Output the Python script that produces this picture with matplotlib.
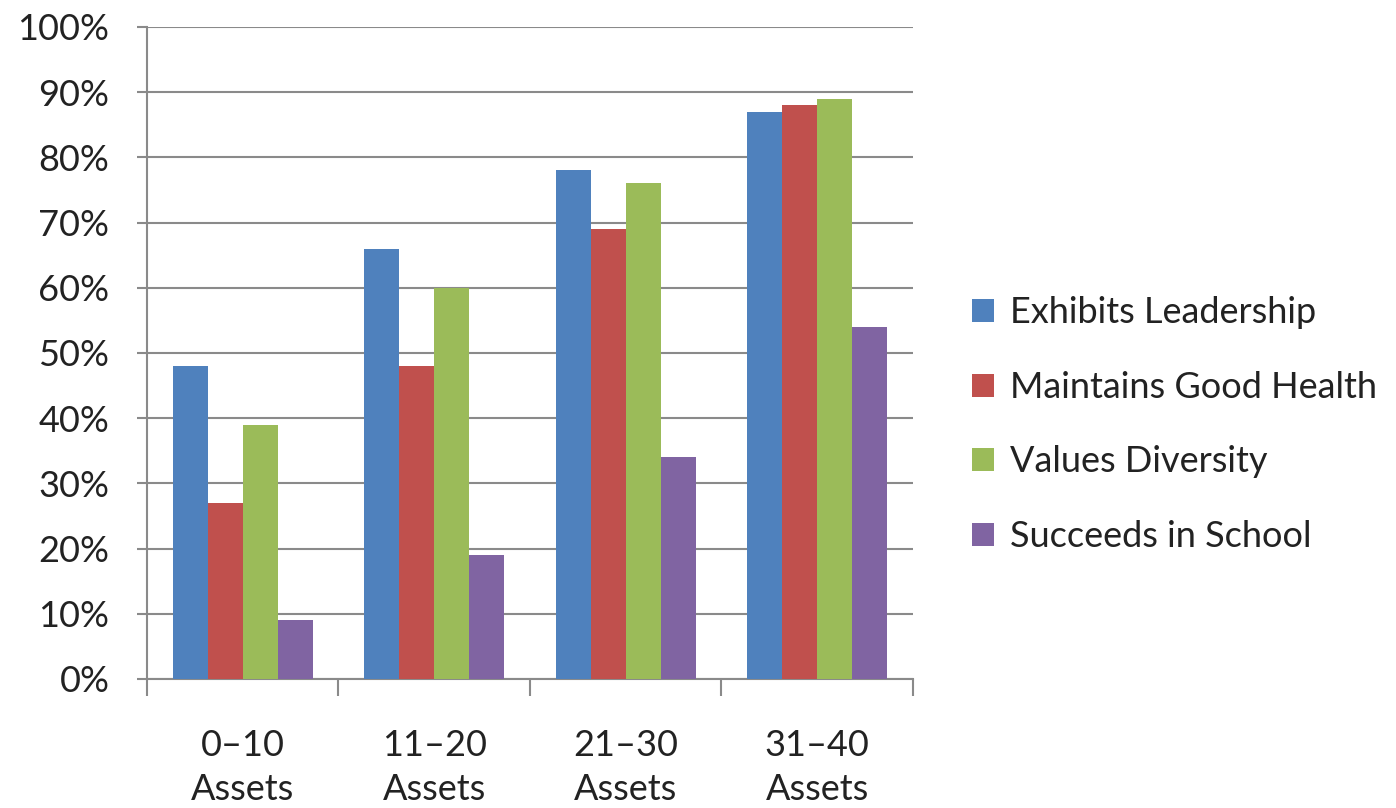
import numpy as np
import matplotlib
matplotlib.use("Agg")
import matplotlib.pyplot as plt
from matplotlib.ticker import PercentFormatter, FixedLocator

plt.rcParams['font.family'] = ['Lato', 'DejaVu Sans']

groups = ["0\u201310\nAssets", "11\u201320\nAssets", "21\u201330\nAssets", "31\u201340\nAssets"]
series = ["Exhibits Leadership", "Maintains Good Health", "Values Diversity", "Succeeds in School"]
leadership = [48, 66, 78, 87]
health = [27, 48, 69, 88]
diversity = [39, 60, 76, 89]
school = [9, 19, 34, 54]
colors = ["#4F81BD", "#C0504D", "#9BBB59", "#8064A2"]

values = [leadership, health, diversity, school]

fig = plt.figure(figsize=(13.96, 8.08), dpi=100)
ax = fig.add_axes([0.1053, 0.1597, 0.5487, 0.8069])

x = np.arange(len(groups))
bw = 0.183
for i, (name, vals, c) in enumerate(zip(series, values, colors)):
    ax.bar(x + (i - 1.5) * bw, vals, width=bw, color=c, label=name, zorder=3)

ax.set_xlim(-0.5, len(groups) - 0.5)
ax.set_ylim(0, 100)
ax.set_yticks(np.arange(0, 101, 10))
ax.yaxis.set_major_formatter(PercentFormatter(decimals=0))
ax.grid(axis='y', color='#8a8a8a', linewidth=1.5, zorder=0)

for side in ['top', 'right']:
    ax.spines[side].set_visible(False)
ax.spines['left'].set_color('#8a8a8a')
ax.spines['left'].set_linewidth(1.5)
ax.spines['bottom'].set_color('#8a8a8a')
ax.spines['bottom'].set_linewidth(1.5)

# category labels centred, tick marks on the boundaries between groups
ax.set_xticks(x)
ax.set_xticklabels(groups, fontsize=26, color='#222222', linespacing=1.4)
ax.tick_params(axis='x', which='major', length=0, pad=36)
ax.xaxis.set_minor_locator(FixedLocator(np.arange(-0.5, len(groups), 1)))
ax.tick_params(axis='x', which='minor', length=12, width=1.5, color='#8a8a8a', direction='out')
ax.tick_params(axis='y', length=7, width=1.5, color='#8a8a8a', labelsize=26,
               labelcolor='#222222', pad=20)

ax.legend(loc='center left', bbox_to_anchor=(1.035, 0.39), frameon=False,
          fontsize=26, handlelength=0.6, handleheight=0.6, handletextpad=0.45,
          labelspacing=1.15, labelcolor='#222222')

fig.savefig("out.png", dpi=100, facecolor='white')
